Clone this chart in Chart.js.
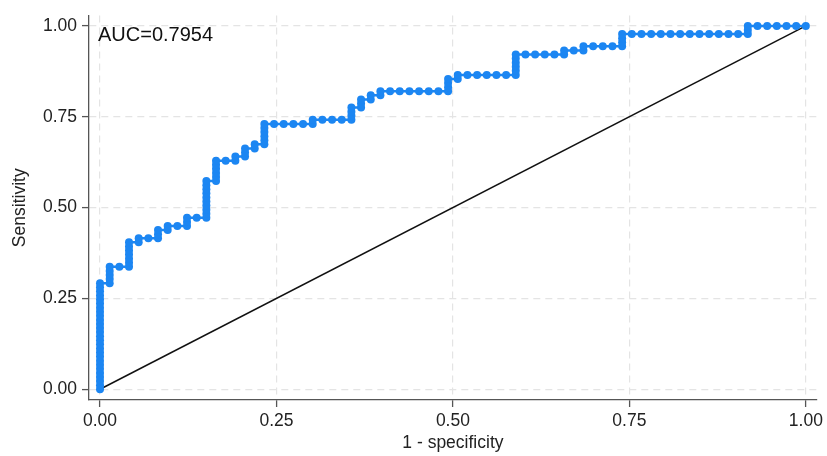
<!DOCTYPE html>
<html>
<head>
<meta charset="utf-8">
<script src="https://cdn.jsdelivr.net/npm/chart.js@4.4.1/dist/chart.umd.min.js"></script>
<style>
  html, body { margin: 0; padding: 0; background: #fff; }
  #wrap { width: 827px; height: 456px; }
</style>
</head>
<body>
<div id="wrap"><canvas id="roc" width="827" height="456"></canvas></div>
<script>
// ROC data: number of negatives (controls) and positives (cases)
const nNeg = 73;
const nPos = 89;
// true positives reached at each count of false positives (0..73)
const tpAtFp = [
  26, 30, 30, 36, 37, 37, 39, 40, 40, 42,
  42, 51, 56, 56, 57, 59, 60, 65, 65, 65,
  65, 65, 66, 66, 66, 66, 69, 71, 72, 73,
  73, 73, 73, 73, 73, 73, 76, 77, 77, 77,
  77, 77, 77, 82, 82, 82, 82, 82, 83, 83,
  84, 84, 84, 84, 87, 87, 87, 87, 87, 87,
  87, 87, 87, 87, 87, 87, 87, 89, 89, 89,
  89, 89, 89, 89
];
const xTicks = [0, 0.25, 0.5, 0.75, 1];
const yTicks = [0, 0.25, 0.5, 0.75, 1];
const diagonal = [0, 1];
const aucText = 'AUC=0.7954';

const FONT = '"Liberation Sans", Arial, Helvetica, sans-serif';
const BLUE = '#1c86f2';

// build the staircase points (one per cutoff)
const rocPoints = [];
let prev = 0;
tpAtFp.forEach((top, fp) => {
  for (let tp = prev; tp <= top; tp++) {
    rocPoints.push({ x: fp / nNeg, y: tp / nPos });
  }
  prev = top;
});

// AUC label in the upper left corner
const aucLabel = {
  id: 'aucLabel',
  afterDatasetsDraw(chart) {
    const { ctx, scales: { x, y } } = chart;
    ctx.save();
    ctx.font = '20px ' + FONT;
    ctx.fillStyle = '#111';
    ctx.textBaseline = 'alphabetic';
    ctx.textAlign = 'left';
    ctx.fillText(aucText, x.getPixelForValue(0) - 2, y.getPixelForValue(1) + 15);
    ctx.restore();
  }
};

const gridOpts = {
  color: '#e4e4e4',
  lineWidth: 1.2,
  tickColor: '#555',
  tickLength: 7,
  tickWidth: 1.3
};

new Chart(document.getElementById('roc').getContext('2d'), {
  type: 'scatter',
  data: {
    datasets: [
      {
        label: 'ROC',
        data: rocPoints,
        showLine: true,
        borderColor: BLUE,
        borderWidth: 2.5,
        pointRadius: 4,
        pointBackgroundColor: BLUE,
        pointBorderWidth: 0,
        order: 1
      },
      {
        label: 'Reference',
        data: diagonal.map(v => ({ x: v, y: v })),
        showLine: true,
        borderColor: '#111',
        borderWidth: 1.5,
        pointRadius: 0,
        order: 2
      }
    ]
  },
  options: {
    responsive: false,
    animation: false,
    devicePixelRatio: 1,
    layout: { padding: { left: 0, right: 9, top: 5, bottom: 0 } },
    plugins: {
      legend: { display: false },
      tooltip: { enabled: false }
    },
    scales: {
      x: {
        type: 'linear',
        min: -0.0156,
        max: 1.0156,
        afterBuildTicks: s => { s.ticks = xTicks.map(v => ({ value: v })); },
        afterFit: s => { s.height = 56; },
        grid: gridOpts,
        border: { display: true, color: '#555', width: 1.3, dash: [7, 5] },
        ticks: {
          color: '#222',
          font: { family: FONT, size: 17.5 },
          padding: 4,
          maxRotation: 0,
          callback: v => v.toFixed(2)
        },
        title: {
          display: true,
          text: '1 - specificity',
          color: '#222',
          font: { family: FONT, size: 17.5 },
          padding: { top: 0, bottom: 2 }
        }
      },
      y: {
        type: 'linear',
        min: -0.0295,
        max: 1.0287,
        afterBuildTicks: s => { s.ticks = yTicks.map(v => ({ value: v })); },
        afterFit: s => { s.width = 89; },
        grid: gridOpts,
        border: { display: true, color: '#555', width: 1.3, dash: [7, 5] },
        ticks: {
          color: '#222',
          font: { family: FONT, size: 17.5 },
          padding: 5,
          callback: v => v.toFixed(2)
        },
        title: {
          display: true,
          text: 'Sensitivity',
          color: '#222',
          font: { family: FONT, size: 17.5 },
          padding: { top: 10, bottom: 0 }
        }
      }
    }
  },
  plugins: [aucLabel]
});
</script>
</body>
</html>
